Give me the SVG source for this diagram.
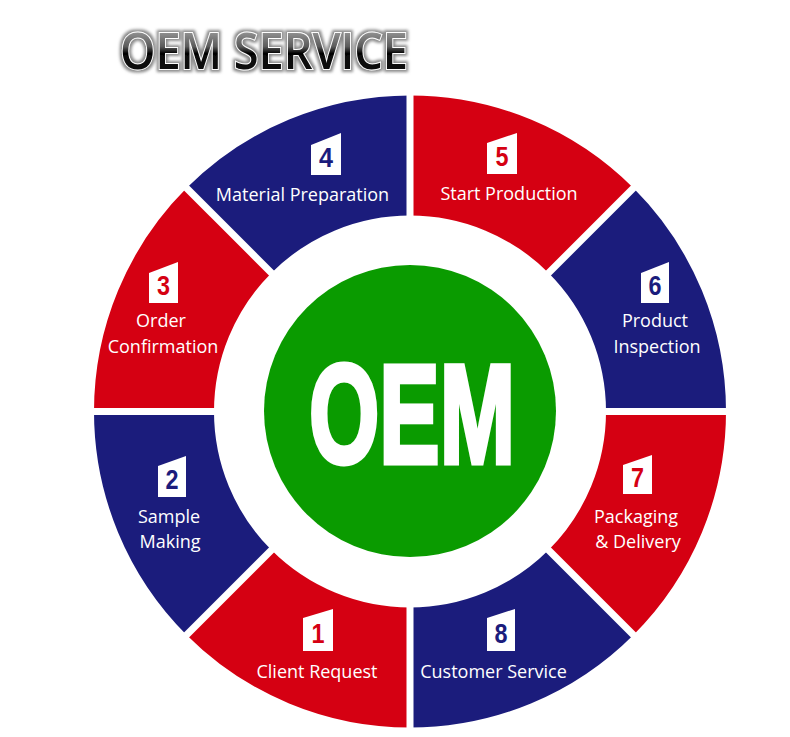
<svg xmlns="http://www.w3.org/2000/svg" width="790" height="737" viewBox="0 0 790 737">
<defs>
<style>
.red{fill:#d50012}
.blue{fill:#1b1c7c}
.badge{fill:#ffffff}
.lbl{font-family:"Open Sans","Noto Sans",sans-serif;font-size:18px;fill:#ffffff;text-anchor:middle}
.num{font-family:"Liberation Sans",Arial,sans-serif;font-weight:bold;font-size:28px;text-anchor:middle}
.nr{fill:#d50012}
.nb{fill:#1b1c7c}
.sep{stroke:#ffffff;stroke-width:7;fill:none}
</style>
<linearGradient id="gloss" x1="0" y1="0" x2="0" y2="1">
<stop offset="0" stop-color="#d0d0d0"/>
<stop offset="0.45" stop-color="#5a5a5a"/>
<stop offset="0.55" stop-color="#050505"/>
<stop offset="0.85" stop-color="#151515"/>
<stop offset="1" stop-color="#808080"/>
</linearGradient>
<filter id="shadow" x="-10%" y="-30%" width="120%" height="160%">
<feMorphology in="SourceAlpha" operator="dilate" radius="1.5" result="d"/>
<feGaussianBlur in="d" stdDeviation="1.8" result="b"/>
<feFlood flood-color="#8a8a8a" result="c"/>
<feComposite in="c" in2="b" operator="in" result="s"/>
<feMerge><feMergeNode in="s"/><feMergeNode in="SourceGraphic"/></feMerge>
</filter>
</defs>
<rect width="790" height="737" fill="#ffffff"/>
<g id="title">
<text x="120" y="69" font-family="'Open Sans','Noto Sans',sans-serif" font-weight="600" font-size="50" textLength="288" lengthAdjust="spacingAndGlyphs" fill="url(#gloss)" stroke="#ffffff" stroke-width="2" paint-order="stroke" filter="url(#shadow)">OEM SERVICE</text>
</g>
<g id="step1">
<path class="red" d="M410 727.5 A316 316 0 0 1 186.6 634.9 L271.4 550.1 A196 196 0 0 0 410 607.5 Z"/>
<polygon class="badge" points="303,618 333,609 333,651 303,651"/>
<text class="num nr" x="318" y="643" textLength="13" lengthAdjust="spacingAndGlyphs">1</text>
<text class="lbl" x="317" y="678">Client Request</text>
</g>
<g id="step2">
<path class="blue" d="M186.6 634.9 A316 316 0 0 1 94 411.5 L214 411.5 A196 196 0 0 0 271.4 550.1 Z"/>
<polygon class="badge" points="158,466 186,456 186,497 158,497"/>
<text class="num nb" x="172" y="489" textLength="13" lengthAdjust="spacingAndGlyphs">2</text>
<text class="lbl" x="169" y="523">Sample</text>
<text class="lbl" x="170" y="548">Making</text>
</g>
<g id="step3">
<path class="red" d="M94 411.5 A316 316 0 0 1 186.6 188.1 L271.4 272.9 A196 196 0 0 0 214 411.5 Z"/>
<polygon class="badge" points="149,273 178,262 178,303 149,303"/>
<text class="num nr" x="163.5" y="295" textLength="13" lengthAdjust="spacingAndGlyphs">3</text>
<text class="lbl" x="161" y="327">Order</text>
<text class="lbl" x="163" y="353">Confirmation</text>
</g>
<g id="step4">
<path class="blue" d="M186.6 188.1 A316 316 0 0 1 410 95.5 L410 215.5 A196 196 0 0 0 271.4 272.9 Z"/>
<polygon class="badge" points="311,145 341,133 341,175 311,175"/>
<text class="num nb" x="326" y="167" textLength="14" lengthAdjust="spacingAndGlyphs">4</text>
<text class="lbl" x="302.5" y="201">Material Preparation</text>
</g>
<g id="step5">
<path class="red" d="M410 95.5 A316 316 0 0 1 633.4 188.1 L548.6 272.9 A196 196 0 0 0 410 215.5 Z"/>
<polygon class="badge" points="487,143 517,133 517,174 487,174"/>
<text class="num nr" x="502" y="166" textLength="13" lengthAdjust="spacingAndGlyphs">5</text>
<text class="lbl" x="509" y="200">Start Production</text>
</g>
<g id="step6">
<path class="blue" d="M633.4 188.1 A316 316 0 0 1 726 411.5 L606 411.5 A196 196 0 0 0 548.6 272.9 Z"/>
<polygon class="badge" points="641,273 669,262 669,303 641,303"/>
<text class="num nb" x="655" y="295" textLength="13" lengthAdjust="spacingAndGlyphs">6</text>
<text class="lbl" x="655" y="327">Product</text>
<text class="lbl" x="657" y="353">Inspection</text>
</g>
<g id="step7">
<path class="red" d="M726 411.5 A316 316 0 0 1 633.4 634.9 L548.6 550.1 A196 196 0 0 0 606 411.5 Z"/>
<polygon class="badge" points="623,465 652,455 652,494 623,494"/>
<text class="num nr" x="637.5" y="487" textLength="13" lengthAdjust="spacingAndGlyphs">7</text>
<text class="lbl" x="636" y="523">Packaging</text>
<text class="lbl" x="638" y="548">&amp; Delivery</text>
</g>
<g id="step8">
<path class="blue" d="M633.4 634.9 A316 316 0 0 1 410 727.5 L410 607.5 A196 196 0 0 0 548.6 550.1 Z"/>
<polygon class="badge" points="487,618 515,609 515,651 487,651"/>
<text class="num nb" x="501" y="643" textLength="13" lengthAdjust="spacingAndGlyphs">8</text>
<text class="lbl" x="493.5" y="678">Customer Service</text>
</g>
<g id="separators">
<line class="sep" x1="80" y1="411.5" x2="740" y2="411.5"/>
<line class="sep" x1="410" y1="80" x2="410" y2="740"/>
<line class="sep" x1="170" y1="651.5" x2="650" y2="171.5"/>
<line class="sep" x1="170" y1="171.5" x2="650" y2="651.5"/>
</g>
<g id="center">
<circle cx="410" cy="411" r="146" fill="#0a9b00"/>
<text x="309" y="462.5" font-family="'Liberation Sans',Arial,sans-serif" font-weight="bold" font-size="141" textLength="206" lengthAdjust="spacingAndGlyphs" fill="#ffffff" stroke="#ffffff" stroke-width="5" stroke-linejoin="miter">OEM</text>
</g>
</svg>
